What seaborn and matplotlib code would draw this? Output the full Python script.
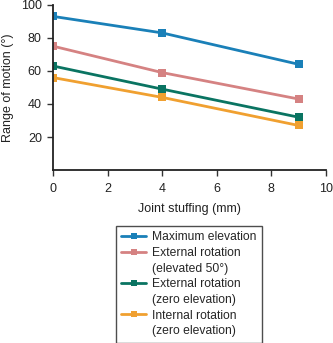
import matplotlib
matplotlib.use("Agg")
import matplotlib.pyplot as plt
import seaborn as sns
import pandas as pd
from matplotlib.lines import Line2D

x_vals = [0, 4, 9]
series_names = ["Maximum elevation", "External rotation\n(elevated 50°)",
                "External rotation\n(zero elevation)", "Internal rotation\n(zero elevation)"]
max_elev = [93, 83, 64]
ext_rot_elev = [75, 59, 43]
ext_rot_zero = [63, 49, 32]
int_rot_zero = [56, 44, 27]
colors = ["#1a80b8", "#d58282", "#0a7462", "#f0a030"]
y_ticks = [20, 40, 60, 80, 100]
x_ticks = [0, 2, 4, 6, 8, 10]

rows = []
for name, vals in zip(series_names, [max_elev, ext_rot_elev, ext_rot_zero, int_rot_zero]):
    for xv, yv in zip(x_vals, vals):
        rows.append({"x": xv, "y": yv, "series": name})
df = pd.DataFrame(rows)

sns.set_style("ticks")
plt.rcParams['font.family'] = ['Liberation Sans', 'DejaVu Sans']

fig = plt.figure(figsize=(3.33, 3.43), dpi=100)
ax = fig.add_axes([0.159, 0.504, 0.82, 0.482])
sns.lineplot(data=df, x="x", y="y", hue="series", palette=colors, marker="s",
             markersize=5.5, markeredgewidth=0, linewidth=2, ax=ax, legend=False)

ax.set_xlim(0, 10)
ax.set_ylim(0, 100)
ax.set_xticks(x_ticks)
ax.set_yticks(y_ticks)
ax.tick_params(labelsize=9, length=4, width=1, color="#333333", labelcolor="#222222", pad=4)
ax.tick_params(axis="x", pad=5)
ax.set_xlabel("Joint stuffing (mm)", fontsize=9, labelpad=6, color="#222222")
ax.set_ylabel("Range of motion (°)", fontsize=9, labelpad=5, color="#222222")
for s in ["top", "right"]:
    ax.spines[s].set_visible(False)
for s in ["left", "bottom"]:
    ax.spines[s].set_linewidth(1.3)
    ax.spines[s].set_color("#222222")

# legend: handle aligned with the first line of each entry
handles, labels = [], []
for c, name in zip(colors, series_names):
    parts = name.split("\n")
    handles.append(Line2D([], [], color=c, marker="s", markersize=4,
                          markeredgewidth=0, linewidth=2))
    labels.append(parts[0])
    for p in parts[1:]:
        handles.append(Line2D([], [], color="none"))
        labels.append(p)

leg = fig.legend(handles, labels, loc="upper left",
                 bbox_to_anchor=(116 / 333, 1 - 226 / 343), fontsize=8.75,
                 frameon=True, fancybox=False, edgecolor="#222222",
                 handlelength=2.0, handletextpad=0.5, labelspacing=0.3,
                 borderpad=0.45, borderaxespad=0)
leg.get_frame().set_linewidth(1.0)

fig.savefig("out.png", dpi=100)
